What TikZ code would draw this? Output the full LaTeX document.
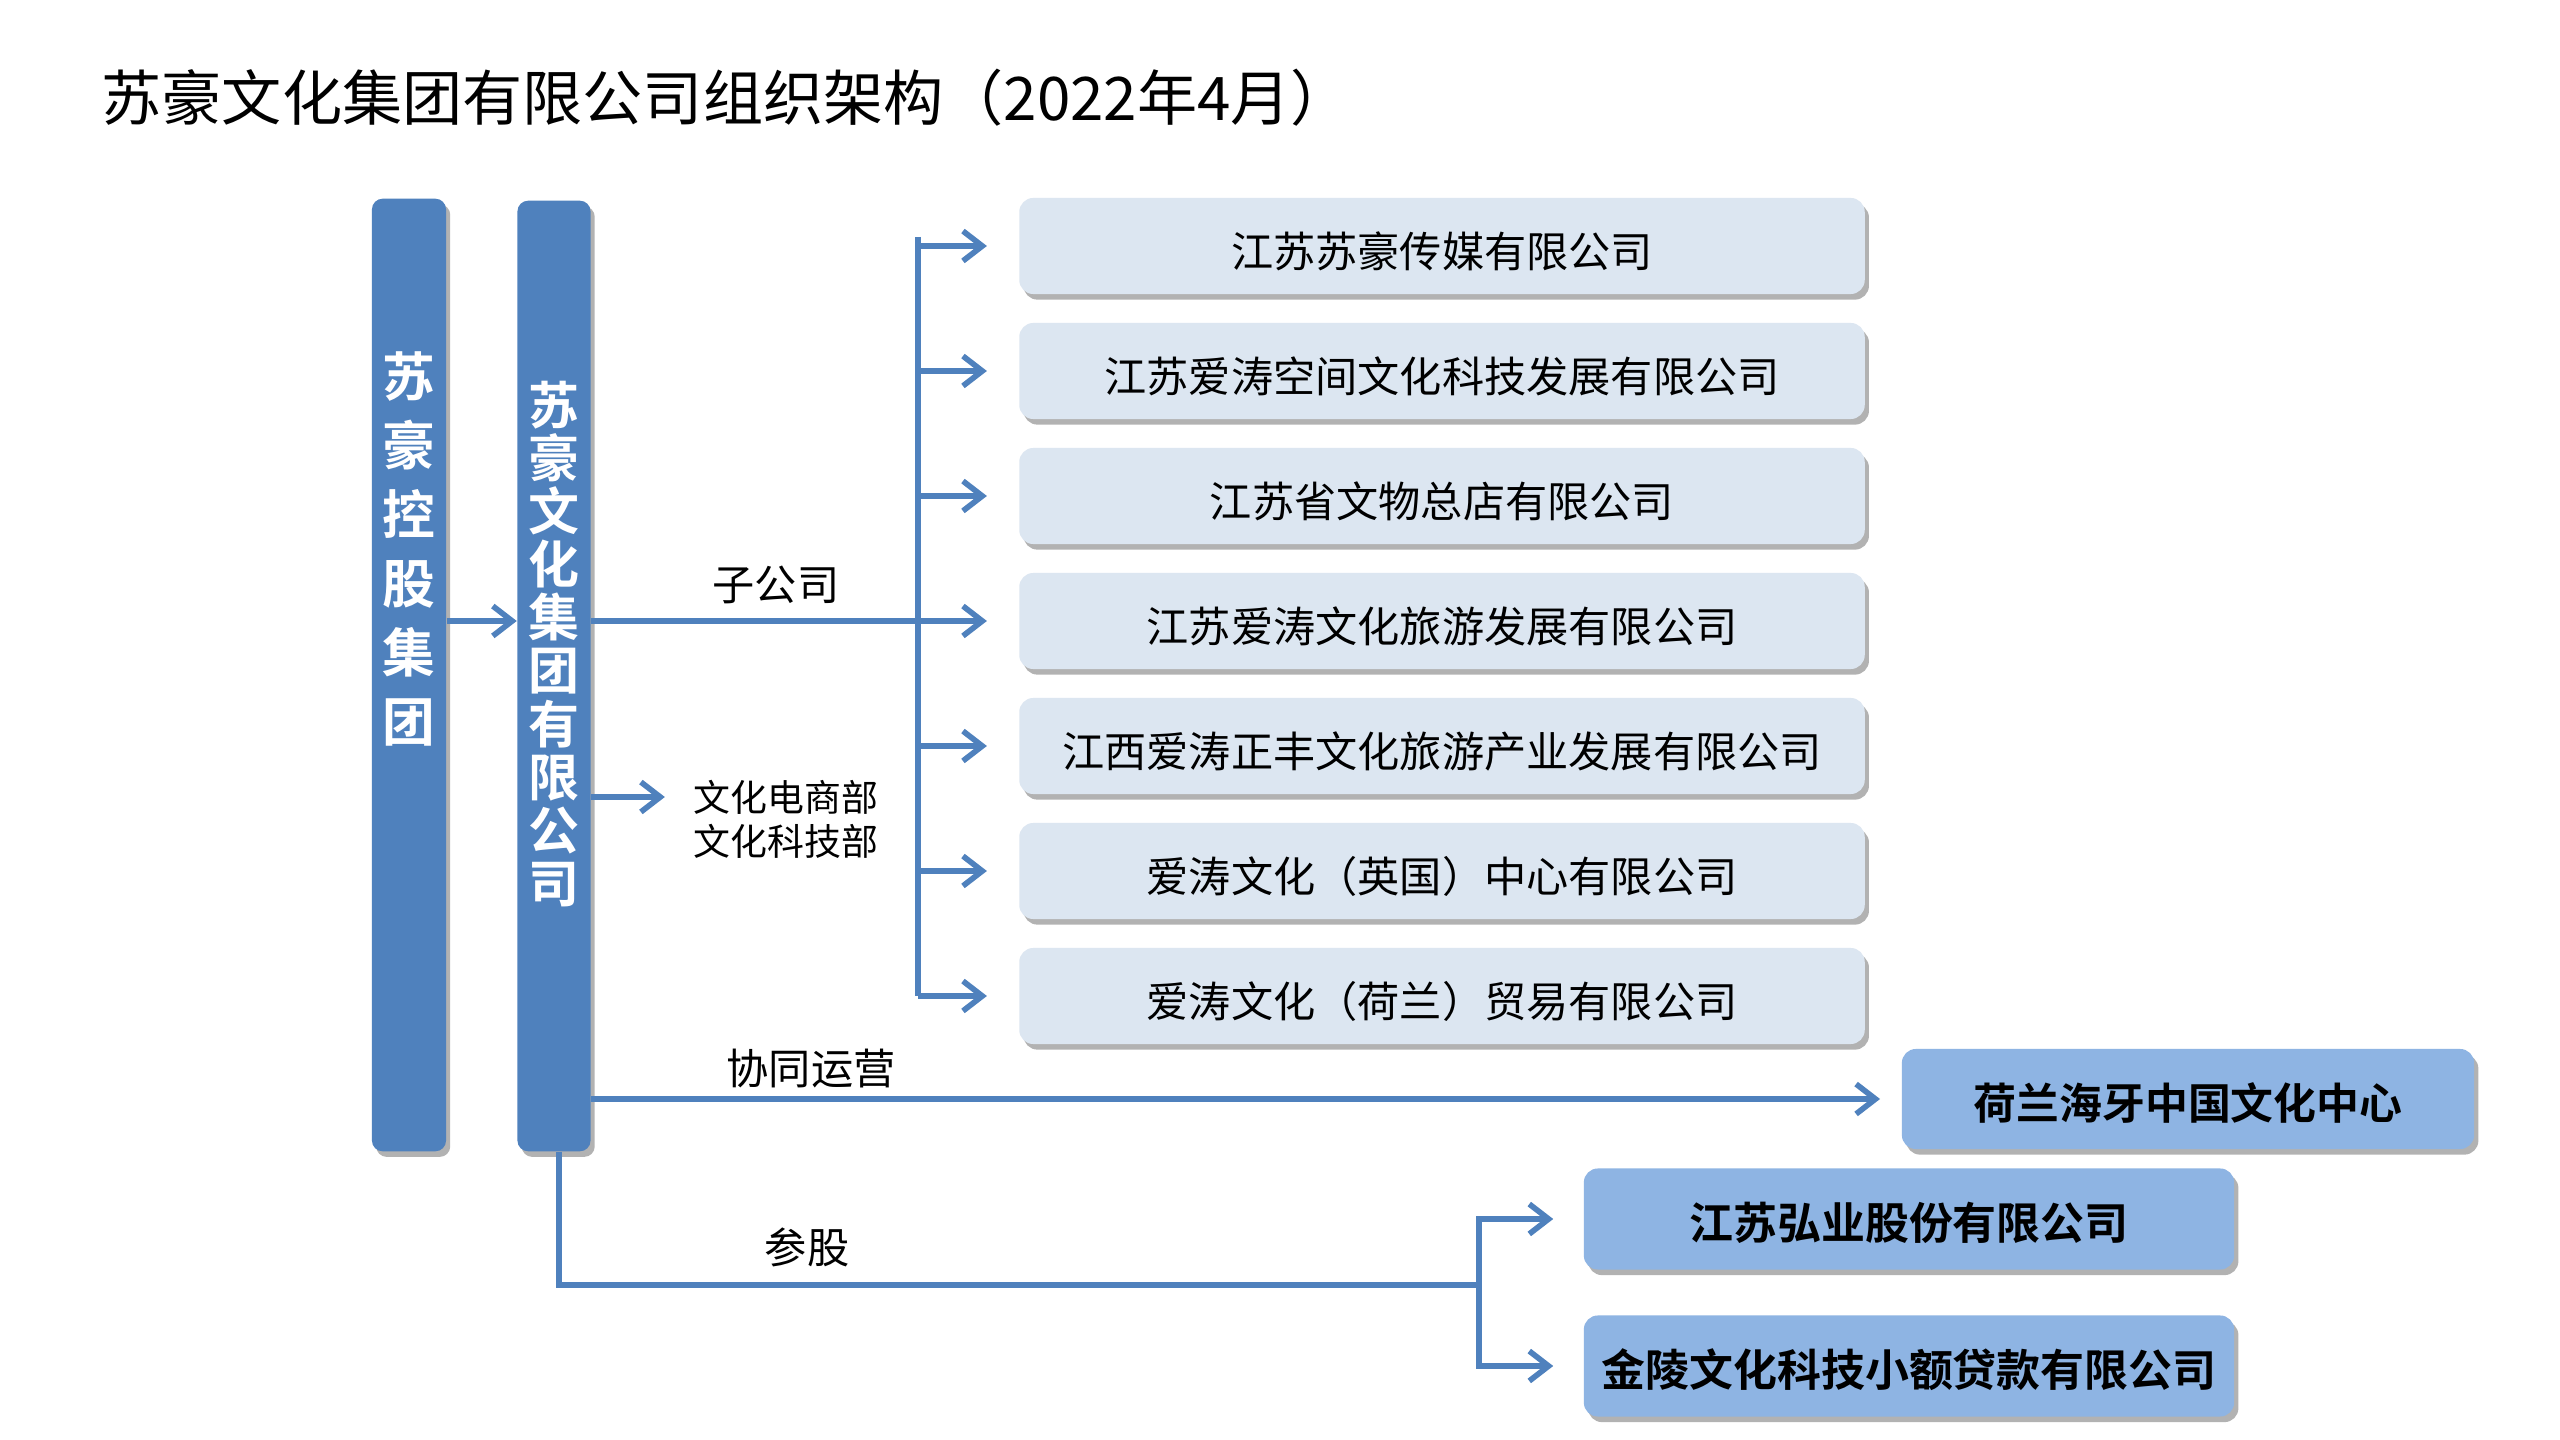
\documentclass[tikz,border=0pt]{standalone}
\usepackage{fontspec}
\setmainfont{Noto Sans CJK SC}[BoldFont={Noto Sans CJK SC Bold}]
\usepackage{tikz}
\usetikzlibrary{arrows.meta,calc,positioning,shadows}

\definecolor{barblue}{HTML}{4F81BD}
\definecolor{subfill}{HTML}{DCE6F1}
\definecolor{keyfill}{HTML}{8EB4E3}

\tikzset{
  boxshadow/.style={drop shadow={shadow xshift=1.2pt,shadow yshift=-1.6pt,fill=black!55,opacity=.55}},
  barbox/.style={rectangle, rounded corners=3pt, fill=barblue, inner sep=0pt, boxshadow},
  bartext/.style={inner sep=0pt, align=center, text=white, font=\bfseries\fontsize{15}{19.6}\selectfont},
  subbox/.style={rectangle, rounded corners=4pt, fill=subfill, inner sep=0pt,
    minimum width=8.45cm, minimum height=0.96cm, text height=1.25em, text depth=0.05em,
    font=\fontsize{12}{14}\selectfont, boxshadow},
  keybox/.style={rectangle, rounded corners=4pt, fill=keyfill, inner sep=0pt,
    minimum height=1cm, text height=1.2em, text depth=0.05em,
    font=\bfseries\fontsize{12.5}{14}\selectfont, boxshadow},
  lbl/.style={inner sep=0pt, font=\fontsize{12}{14}\selectfont},
  link/.style={draw=barblue, line width=1.6pt},
  arr/.style={link, -{Straight Barb[length=5.5pt,width=8.5pt]}},
}

\begin{document}
\begin{tikzpicture}[x=0.01cm,y=-0.01cm]
                \fill[white] (0,0) rectangle (2560,1440);
                % title
                \node[anchor=west, inner sep=0pt, font=\fontsize{17.1}{20}\selectfont] (title) at (101,98)
                  {苏豪文化集团有限公司组织架构（2022年4月）};
                % the two vertical bars
                \node[barbox, minimum width=0.74cm, minimum height=9.52cm] (hkbar) at (409,675) {};
                \node[barbox, minimum width=0.73cm, minimum height=9.50cm] (cgbar) at (554,676) {};
                \node[bartext] (hktext) at (409,549) {苏\\豪\\控\\股\\集\\团};
                \node[bartext, font=\bfseries\fontsize{14.5}{15.1}\selectfont] (cgtext) at (554,644)
                  {苏\\豪\\文\\化\\集\\团\\有\\限\\公\\司};
                % subsidiaries
                \node[subbox] (sub1) at (1442,246) {江苏苏豪传媒有限公司};
                \node[subbox] (sub2) at (1442,371) {江苏爱涛空间文化科技发展有限公司};
                \node[subbox] (sub3) at (1442,496) {江苏省文物总店有限公司};
                \node[subbox] (sub4) at (1442,621) {江苏爱涛文化旅游发展有限公司};
                \node[subbox] (sub5) at (1442,746) {江西爱涛正丰文化旅游产业发展有限公司};
                \node[subbox] (sub6) at (1442,871) {爱涛文化（英国）中心有限公司};
                \node[subbox] (sub7) at (1442,996) {爱涛文化（荷兰）贸易有限公司};
                % other companies
                \node[keybox, minimum width=5.72cm, font=\bfseries\fontsize{12.2}{15}\selectfont] (hague) at (2188,1099) {荷兰海牙中国文化中心};
                \node[keybox, minimum width=6.5cm, minimum height=1.01cm] (hongye) at (1909,1219) {江苏弘业股份有限公司};
                \node[keybox, minimum width=6.5cm, minimum height=1.01cm, font=\bfseries\fontsize{12.5}{15}\selectfont] (jinling) at (1909,1366) {金陵文化科技小额贷款有限公司};
                % labels
                \node[lbl] (sublbl) at (776,585) {子公司};
                \node[lbl, align=left, font=\fontsize{10.5}{12.5}\selectfont] (dept) at (786,819) {文化电商部\\文化科技部};
                \node[lbl] (coop) at (811,1069) {协同运营};
                \node[lbl] (share) at (807,1247) {参股};
                \coordinate (trunk) at (918,237);
                \coordinate (split) at (1479,1285);
                % arrows
                \draw[arr] (hkbar.east |- sub4) -- (cgbar.west |- sub4);
                \draw[link] (cgbar.east |- sub4) -- (trunk |- sub4);
                \draw[link] (trunk) -- (trunk |- sub7);
                \foreach \i in {1,...,7}
                  {
                    \draw[arr, shorten >=9pt] (trunk |- sub\i) -- (sub\i.west);
                  }
                \draw[arr, shorten >=8pt] (cgbar.east |- 0,797) -- (dept.west |- 0,797);
                \draw[arr, shorten >=6pt] (cgbar.east |- hague) -- (hague.west);
                \draw[link] ([xshift=1.5pt]cgbar.south) |- (split);
                \draw[arr, shorten >=8.5pt] (split) |- (hongye.west);
                \draw[arr, shorten >=8.5pt] (split) |- (jinling.west);
              \end{tikzpicture}
\end{document}
